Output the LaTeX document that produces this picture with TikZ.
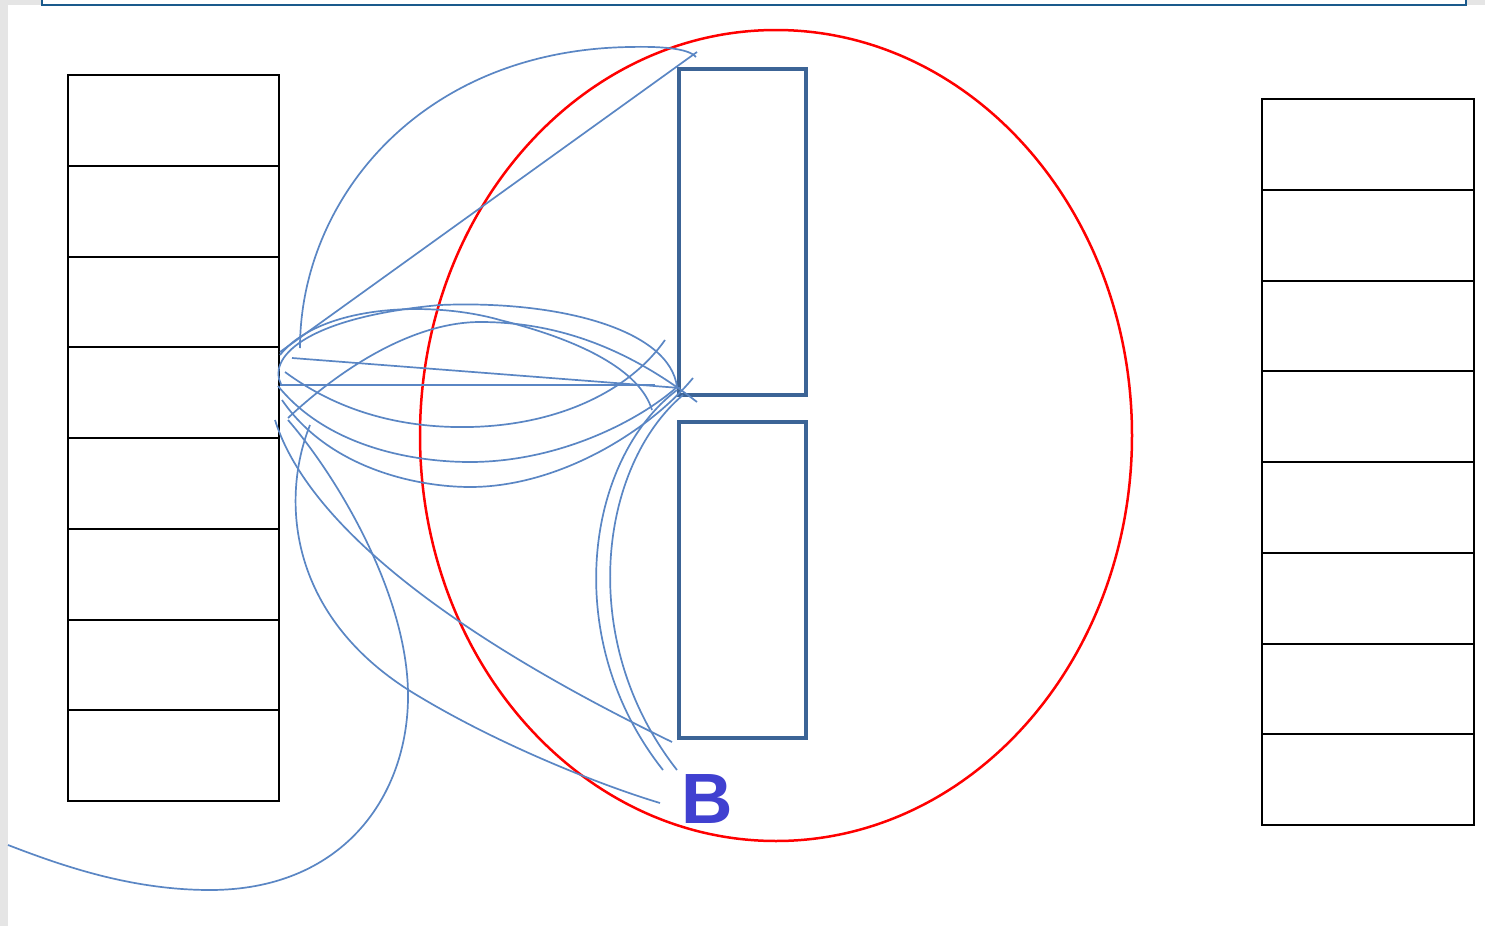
\documentclass[tikz,border=0pt]{standalone}
\usepackage{fontspec}
\newfontfamily\labelfont{Liberation Sans}
\definecolor{bggray}{RGB}{229,229,229}
\definecolor{framblue}{RGB}{26,90,140}
\definecolor{sketch}{RGB}{90,134,196}
\definecolor{rectblue}{RGB}{60,100,150}
\definecolor{letterblue}{RGB}{64,64,208}
\begin{document}
\begin{tikzpicture}[x=0.5pt,y=-0.5pt,
  cell/.style={draw=black,line width=1pt,minimum width=105.5pt,minimum height=45.375pt,inner sep=0pt,outer sep=0pt},
  slot/.style={draw=rectblue,line width=1.6pt,inner sep=0pt,outer sep=0pt},
  stroke/.style={draw=sketch,line width=0.85pt},
  ring/.style={draw=red,line width=1.25pt}]
\useasboundingbox (0,0) rectangle (1485,926);
\fill[bggray] (0,0) rectangle (1485,926);
\fill[white] (8,5) rectangle (1485,926);
\draw[framblue,line width=1.25pt,fill=white] (42,-10) rectangle (1466,5);
% left and right columns
\foreach \i in {1,...,8}{
  \node[cell] (L\i) at (173.5,{75+90.75*(\i-0.5)}) {};
  \node[cell,minimum width=106pt] (R\i) at (1368,{99+90.75*(\i-0.5)}) {};
}
% red ellipse
\draw[ring] (776,435.5) ellipse [x radius=356, y radius=405.5];
% blue slots
\node[slot,minimum width=63.5pt,minimum height=163pt] (U) at (742.5,232) {};
\node[slot,minimum width=63.5pt,minimum height=158pt] (D) at (742.5,580) {};
% label
\node[text=letterblue,font=\labelfont\bfseries\fontsize{35.6}{40}\selectfont,inner sep=0pt,anchor=base] (B) at (707,823) {B};
% sketch strokes
\draw[stroke] (300,348) .. controls (300,200) and (420,50) .. (630,47) .. controls (670,46) and (690,50) .. (696,57);
\draw[stroke] (697,52) -- (280,352);
\draw[stroke] (281,384) .. controls (268,360) and (300,318) .. (440,305) .. controls (560,300) and (670,330) .. (677,387);
\draw[stroke] (280,355) .. controls (320,305) and (430,300) .. (500,320) .. controls (580,340) and (640,370) .. (652,410);
\draw[stroke] (288,418) .. controls (350,360) and (420,322) .. (480,322) .. controls (560,322) and (630,350) .. (697,402);
\draw[stroke] (280,385) -- (655,385);
\draw[stroke] (292,358) -- (680,388);
\draw[stroke] (285,372) .. controls (350,420) and (420,428) .. (470,427) .. controls (560,425) and (630,390) .. (665,340);
\draw[stroke] (278,386) .. controls (330,450) and (420,462) .. (470,462) .. controls (560,462) and (640,420) .. (677,387);
\draw[stroke] (282,400) .. controls (330,470) and (420,487) .. (470,487) .. controls (560,487) and (650,430) .. (693,378);
% strokes going down
\draw[stroke] (288,420) .. controls (340,480) and (410,600) .. (408,700) .. controls (406,800) and (340,890) .. (210,890) .. controls (130,890) and (60,865) .. (8,845);
\draw[stroke] (275,420) .. controls (300,500) and (400,610) .. (672,742);
\draw[stroke] (310,425) .. controls (280,500) and (288,620) .. (420,697) .. controls (500,745) and (600,785) .. (660,803);
\draw[stroke] (677,390) .. controls (585,460) and (560,640) .. (663,770);
\draw[stroke] (683,395) .. controls (600,465) and (575,640) .. (677,770);
\end{tikzpicture}
\end{document}
